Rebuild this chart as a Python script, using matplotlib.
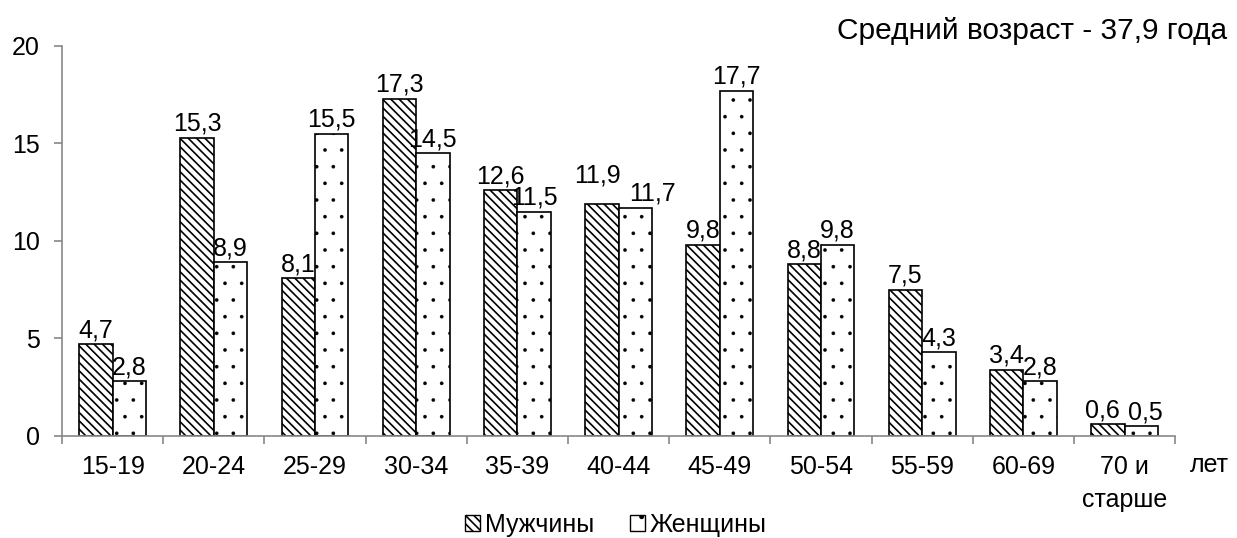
import numpy as np
import matplotlib.pyplot as plt
from matplotlib.patches import Patch

plt.rcParams['font.family'] = ['Liberation Sans', 'DejaVu Sans']
plt.rcParams['hatch.linewidth'] = 1.2

categories = ["15-19", "20-24", "25-29", "30-34", "35-39", "40-44",
              "45-49", "50-54", "55-59", "60-69", "70 и\nстарше"]
men = [4.7, 15.3, 8.1, 17.3, 12.6, 11.9, 9.8, 8.8, 7.5, 3.4, 0.6]
women = [2.8, 8.9, 15.5, 14.5, 11.5, 11.7, 17.7, 9.8, 4.3, 2.8, 0.5]

FS = 18


def fmt(v):
    return f"{v:.1f}".replace('.', ',')


fig = plt.figure(figsize=(12.37, 5.38), dpi=100)
ax = fig.add_axes([0.0501, 0.1896, 0.8999, 0.7249])

x = np.arange(len(categories))
w = 0.33
gray = "#888888"

b1 = ax.bar(x - w / 2, men, w, facecolor="white", edgecolor="black",
            hatch="\\\\\\\\", linewidth=1.2)
b2 = ax.bar(x + w / 2, women, w, facecolor="white", edgecolor="black",
            hatch=".", linewidth=1.2)
for p in b2:
    if hasattr(p, "set_hatch_linewidth"):
        p.set_hatch_linewidth(0.2)

# labels; the 40-44 and 70+ pairs are nudged apart like in the source
for i, (xi, v) in enumerate(zip(x - w / 2, men)):
    dx, dy = 0, 0.1
    if i == 5:
        dx, dy = -0.04, 0.85
    if i == 10:
        dx = -0.05
    ax.text(xi + dx, v + dy, fmt(v), ha='center', va='bottom', fontsize=FS)
for i, (xi, v) in enumerate(zip(x + w / 2, women)):
    dx = 0
    if i == 5:
        dx = 0.17
    if i == 10:
        dx = 0.04
    ax.text(xi + dx, v + 0.1, fmt(v), ha='center', va='bottom', fontsize=FS)

ax.set_xlim(-0.5, len(categories) - 0.5)
ax.set_ylim(0, 20)
ax.set_yticks([0, 5, 10, 15, 20])
ax.tick_params(axis='y', labelsize=FS, color=gray, length=6, width=1.2, pad=10)

ax.set_xticks(x)
ax.set_xticklabels(categories, fontsize=FS, linespacing=1.45)
ax.tick_params(axis='x', length=0, pad=14)
ax.set_xticks(np.arange(len(categories) + 1) - 0.5, minor=True)
ax.tick_params(axis='x', which='minor', length=6, color=gray, width=1.2)

for s in ['top', 'right']:
    ax.spines[s].set_visible(False)
for s in ['left', 'bottom']:
    ax.spines[s].set_color(gray)
    ax.spines[s].set_linewidth(1.2)

fig.text(0.992, 0.943, "Средний возраст - 37,9 года", ha='right', va='center',
         fontsize=21.5)
fig.text(0.962, 0.135, "лет", ha='left', va='center', fontsize=FS)

handles = [Patch(facecolor="white", edgecolor="black", hatch="\\\\\\\\", label="Мужчины"),
           Patch(facecolor="white", edgecolor="black", hatch=".", label="Женщины")]
fig.legend(handles=handles, loc='center', bbox_to_anchor=(0.498, 0.024), ncol=2,
           frameon=False, fontsize=FS, handlelength=0.6, handleheight=0.6,
           handletextpad=0.2, columnspacing=1.4, borderpad=0, borderaxespad=0)

fig.savefig("out.png", dpi=100)
